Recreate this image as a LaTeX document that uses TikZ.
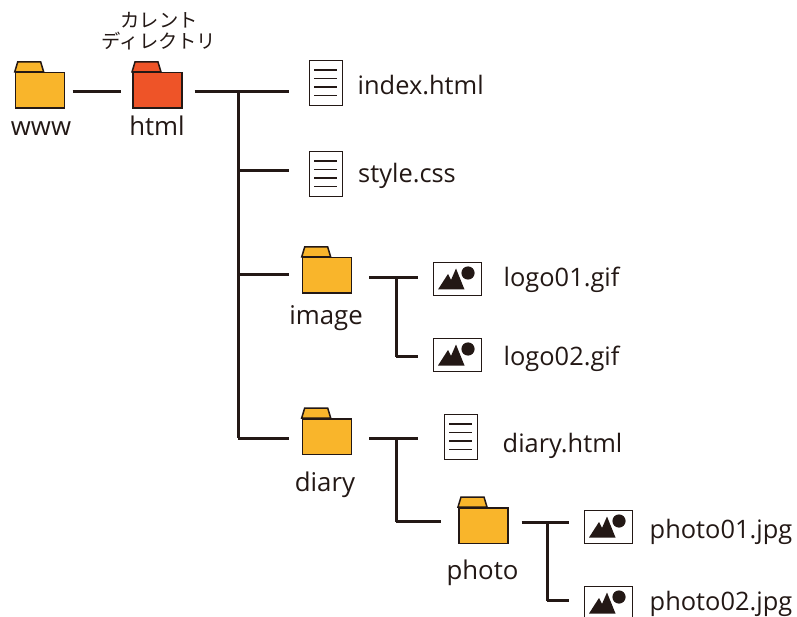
\documentclass[tikz,border=0pt]{standalone}
\usepackage{fontspec}
\setmainfont{Open Sans}
\newfontfamily\cjk{Noto Sans CJK JP}
\definecolor{ink}{HTML}{231815}
\definecolor{fyellow}{HTML}{F9B52B}
\definecolor{fred}{HTML}{EE5428}
\tikzset{
  conn/.style={draw=ink,line width=3pt},
  fbody/.style={draw=ink,line width=1.5pt,minimum width=49pt,minimum height=35.5pt,inner sep=0pt,anchor=north west},
  fileicon/.style={draw=ink,line width=1.3pt,fill=white,minimum width=33pt,minimum height=45pt,inner sep=0pt,anchor=north west},
  picicon/.style={draw=ink,line width=1.3pt,fill=white,minimum width=48pt,minimum height=33pt,inner sep=0pt,anchor=north west},
  lbl/.style={text=ink,font=\fontsize{25.4}{26}\selectfont,inner sep=0pt,anchor=base west},
  clbl/.style={text=ink,font=\fontsize{25.8}{26}\selectfont,inner sep=0pt,anchor=base},
  kana/.style={text=ink,font=\cjk\fontsize{19.3}{20}\selectfont,inner sep=0pt,anchor=center}
}
\newcommand{\myfolder}[4]{% name, x, y(body top), colour
  \draw[ink,line width=1.5pt,fill=#4] (#2,#3) -- ++(3,-10) -- ++(23,0) -- ++(3,10) -- cycle;
  \node[fbody,fill=#4] (#1) at (#2,#3) {};
}
\newcommand{\mydoc}[3]{%
  \node[fileicon] (#1) at (#2,#3) {};
  \foreach \yy in {10,18.5,27,35.5}
    \draw[ink,line width=1.4pt] ([shift={(5,\yy)}]#1.north west) -- ++(23,0);
}
\newcommand{\mypic}[3]{%
  \node[picicon] (#1) at (#2,#3) {};
  \fill[ink] ([shift={(5,27.5)}]#1.north west) -- ++(10,-15.5) -- ++(3,6) -- ++(5,-11.5) -- ++(8.5,21) -- cycle;
  \fill[ink] ([shift={(35,11)}]#1.north west) circle (6.6);
}
\begin{document}
\begin{tikzpicture}[x=1pt,y=-1pt]
\clip (0,0) rectangle (797,617);
\fill[white] (0,0) rectangle (797,617);
% folders
\myfolder{www}{14.7}{72}{fyellow}
\myfolder{html}{132}{72}{fred}
\myfolder{image}{301.7}{257}{fyellow}
\myfolder{diary}{301.7}{418}{fyellow}
\myfolder{photo}{458}{507}{fyellow}
% files
\mydoc{index}{309}{60}
\mydoc{style}{309}{151}
\mydoc{diaryhtml}{444}{414}
\mypic{logoa}{433}{262}
\mypic{logob}{433}{338}
\mypic{photoa}{584}{510}
\mypic{photob}{584}{586}
% labels
\node[clbl] (twww) at (41,136) {www};
\node[clbl] (thtml) at (157,136) {html};
\node[kana] (ka) at (159,20) {カレント};
\node[kana] (kb) at (159,41) {ディレクトリ};
\node[clbl] (timage) at (326,324) {image};
\node[clbl] (tdiary) at (325,491) {diary};
\node[clbl] (tphoto) at (482.5,579) {photo};
\node[lbl] (tindex) at (357.5,95) {index.html};
\node[lbl] (tstyle) at (358,183) {style.css};
\node[lbl] (tla) at (503.5,287) {logo01.gif};
\node[lbl] (tlb) at (503.5,365.5) {logo02.gif};
\node[lbl] (tdh) at (502.5,452) {diary.html};
\node[lbl] (tpa) at (649.5,538) {photo01.jpg};
\node[lbl] (tpb) at (649.5,610) {photo02.jpg};
% junctions
\coordinate (j0) at (238,91.5);
\coordinate (j0b) at (238,170.5);
\coordinate (j0c) at (238,274.5);
\coordinate (j0d) at (238,438);
\coordinate (j1) at (396,277.5);
\coordinate (j1b) at (396,356.5);
\coordinate (j2) at (396,438);
\coordinate (j2b) at (396,521.5);
\coordinate (j3) at (547,522);
\coordinate (j3b) at (547,600.5);
% connectors
\draw[conn,shorten <=7.5pt,shorten >=11pt] (www.east |- j0) -- (html.west |- j0);
\draw[conn,shorten <=12pt] (html.east |- j0) -- (j0);
\draw[conn,shorten >=20pt] (j0) -- (index.west |- j0);
\draw[conn,line cap=square] (j0) -- (j0d);
\draw[conn,shorten >=20pt] (j0b) -- (style.west |- j0b);
\draw[conn,shorten >=13pt] (j0c) -- (image.west |- j0c);
\draw[conn,shorten >=13pt] (j0d) -- (diary.west |- j0d);
\draw[conn,shorten <=17pt,shorten >=15pt] (image.east |- j1) -- (logoa.west |- j1);
\draw[conn,line cap=square] (j1) -- (j1b);
\draw[conn,shorten >=15pt] (j1b) -- (logob.west |- j1b);
\draw[conn,shorten <=17pt,shorten >=26pt] (diary.east |- j2) -- (diaryhtml.west |- j2);
\draw[conn,line cap=square] (j2) -- (j2b);
\draw[conn,shorten >=17pt] (j2b) -- (photo.west |- j2b);
\draw[conn,shorten <=13pt,shorten >=15pt] (photo.east |- j3) -- (photoa.west |- j3);
\draw[conn,line cap=square] (j3) -- (j3b);
\draw[conn,shorten >=15pt] (j3b) -- (photob.west |- j3b);
\end{tikzpicture}
\end{document}
